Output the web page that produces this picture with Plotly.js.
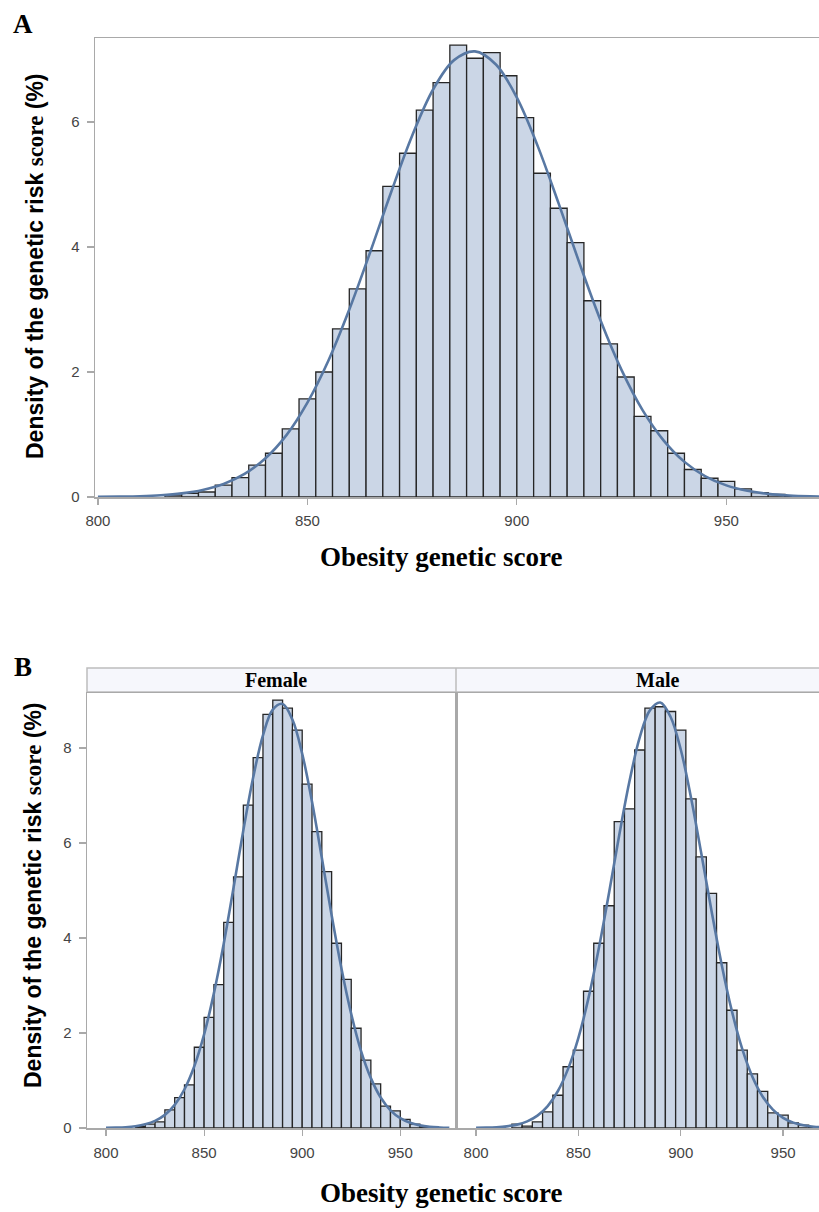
<!DOCTYPE html>
<html>
<head>
<meta charset="utf-8">
<script src="https://cdn.plot.ly/plotly-3.0.1.min.js"></script>
<style>
  html, body { margin: 0; padding: 0; overflow: hidden; background: #fff; }
  #chart { width: 880px; height: 1212px; }
</style>
</head>
<body>
<div id="chart"></div>
<script>
// ---------- Panel A: all subjects (bin width 4) ----------
const aBins = [818, 822, 826, 830, 834, 838, 842, 846, 850, 854, 858, 862, 866, 870, 874, 878, 882, 886, 890, 894, 898, 902, 906, 910, 914, 918, 922, 926, 930, 934, 938, 942, 946, 950, 954, 958, 962, 966];
const aDensity = [0.03, 0.06, 0.08, 0.19, 0.31, 0.51, 0.70, 1.09, 1.57, 2.00, 2.69, 3.33, 3.94, 4.97, 5.50, 6.19, 6.63, 7.23, 7.02, 7.11, 6.74, 6.07, 5.18, 4.62, 4.07, 3.14, 2.45, 1.92, 1.29, 1.06, 0.70, 0.44, 0.30, 0.25, 0.13, 0.07, 0.04, 0.02];
const aCurveX = [800, 805, 810, 815, 820, 825, 830, 835, 840, 845, 850, 855, 860, 865, 870, 875, 880, 885, 890, 895, 900, 905, 910, 915, 920, 925, 930, 935, 940, 945, 950, 955, 960, 965, 970, 975, 980];
const aCurve = [0.002, 0.006, 0.013, 0.028, 0.058, 0.113, 0.209, 0.369, 0.62, 0.99, 1.51, 2.18, 3.00, 3.92, 4.88, 5.78, 6.52, 6.99, 7.13, 6.92, 6.39, 5.61, 4.69, 3.73, 2.82, 2.03, 1.39, 0.907, 0.562, 0.331, 0.186, 0.099, 0.050, 0.024, 0.011, 0.005, 0.002];

// ---------- Panel B: Female (bin width 5) ----------
const femaleBins = [817.5, 822.5, 827.5, 832.5, 837.5, 842.5, 847.5, 852.5, 857.5, 862.5, 867.5, 872.5, 877.5, 882.5, 887.5, 892.5, 897.5, 902.5, 907.5, 912.5, 917.5, 922.5, 927.5, 932.5, 937.5, 942.5, 947.5, 952.5, 957.5, 962.5];
const femaleDensity = [0.03, 0.08, 0.13, 0.38, 0.64, 0.91, 1.70, 2.33, 3.02, 4.33, 5.29, 6.80, 7.80, 8.71, 9.01, 8.84, 8.38, 7.24, 6.24, 5.40, 3.89, 3.13, 2.10, 1.43, 0.93, 0.46, 0.36, 0.18, 0.08, 0.03];
const femaleCurveX = [800, 805, 810, 815, 820, 825, 830, 835, 840, 845, 850, 855, 860, 865, 870, 875, 880, 885, 890, 895, 900, 905, 910, 915, 920, 925, 930, 935, 940, 945, 950, 955, 960, 965, 970, 975];
const femaleCurve = [0.003, 0.008, 0.017, 0.037, 0.077, 0.149, 0.276, 0.487, 0.816, 1.30, 1.97, 2.84, 3.88, 5.06, 6.27, 7.38, 8.27, 8.81, 8.93, 8.60, 7.88, 6.87, 5.69, 4.48, 3.36, 2.40, 1.62, 1.05, 0.641, 0.373, 0.207, 0.109, 0.055, 0.026, 0.012, 0.005];

// ---------- Panel B: Male (bin width 5) ----------
const maleBins = [820, 825, 830, 835, 840, 845, 850, 855, 860, 865, 870, 875, 880, 885, 890, 895, 900, 905, 910, 915, 920, 925, 930, 935, 940, 945, 950, 955, 960, 965];
const maleDensity = [0.08, 0.04, 0.13, 0.34, 0.69, 1.29, 1.64, 2.88, 3.89, 4.68, 6.45, 6.72, 7.96, 8.84, 8.87, 8.77, 8.38, 6.93, 5.71, 4.94, 3.48, 2.48, 1.64, 1.14, 0.77, 0.32, 0.27, 0.11, 0.06, 0.03];
const maleCurveX = [800, 805, 810, 815, 820, 825, 830, 835, 840, 845, 850, 855, 860, 865, 870, 875, 880, 885, 890, 895, 900, 905, 910, 915, 920, 925, 930, 935, 940, 945, 950, 955, 960, 965, 970, 975, 980];
const maleCurve = [0.003, 0.007, 0.016, 0.035, 0.071, 0.140, 0.261, 0.462, 0.779, 1.25, 1.90, 2.75, 3.79, 4.96, 6.18, 7.31, 8.23, 8.80, 8.96, 8.66, 7.97, 6.96, 5.79, 4.58, 3.44, 2.46, 1.67, 1.08, 0.663, 0.387, 0.215, 0.113, 0.057, 0.027, 0.012, 0.005, 0.002];

const xTicks = [800, 850, 900, 950];
const yTicksA = [0, 2, 4, 6];
const yTicksB = [0, 2, 4, 6, 8];
const panelLabels = ['A', 'B'];
const facetLabels = ['Female', 'Male'];
const xTitle = 'Obesity genetic score';
const yTitle = 'Density of the genetic risk <span style="font-family:\'Liberation Serif\', \'Times New Roman\', serif">score</span> (%)';

// ---------- geometry helpers (pixels -> paper) ----------
const W = 880, H = 1212;
const px = v => v / W;
const py = v => 1 - v / H;

const BAR_FILL = '#cbd6e6';
const BAR_LINE = '#262626';
const CURVE = '#5878a3';
const AXIS = '#a9a9a9';
const TICKFONT = {family: 'Liberation Sans, Arial, sans-serif', size: 15, color: '#444444'};
const SERIF = 'Liberation Serif, Times New Roman, serif';

function bars(x, y, w, xa, ya) {
  return {type: 'bar', x: x, y: y, width: w, xaxis: xa, yaxis: ya,
    marker: {color: BAR_FILL, line: {color: BAR_LINE, width: 1.3}},
    hoverinfo: 'x+y', showlegend: false};
}
function curve(x, y, xa, ya) {
  return {type: 'scatter', mode: 'lines', x: x, y: y, xaxis: xa, yaxis: ya,
    line: {color: CURVE, width: 2.6, shape: 'spline', smoothing: 1},
    hoverinfo: 'skip', showlegend: false, cliponaxis: true};
}

const data = [
  bars(aBins, aDensity, 4, 'x', 'y'),
  curve(aCurveX, aCurve, 'x', 'y'),
  bars(femaleBins, femaleDensity, 5, 'x2', 'y2'),
  curve(femaleCurveX, femaleCurve, 'x2', 'y2'),
  bars(maleBins, maleDensity, 5, 'x3', 'y3'),
  curve(maleCurveX, maleCurve, 'x3', 'y3')
];

const axBase = {showgrid: false, zeroline: false, showline: true, linecolor: AXIS, linewidth: 1.5,
  mirror: true, ticks: 'outside', ticklen: 7, tickwidth: 1.2, tickcolor: AXIS, tickfont: TICKFONT,
  fixedrange: true};

const layout = {
  width: W, height: H,
  margin: {l: 0, r: 0, t: 0, b: 0},
  paper_bgcolor: '#ffffff', plot_bgcolor: '#ffffff',
  bargap: 0, barmode: 'overlay', showlegend: false,
  xaxis: Object.assign({}, axBase, {anchor: 'y', domain: [px(95), px(860)], range: [799.3, 981.9], tickvals: xTicks, ticklen: 6, ticklabelstandoff: 3}),
  yaxis: Object.assign({}, axBase, {anchor: 'x', domain: [py(497), py(38)], range: [0, 7.344], tickvals: yTicksA, ticklabelstandoff: 4}),
  xaxis2: Object.assign({}, axBase, {anchor: 'y2', domain: [px(87), px(456)], range: [790.3, 978.4], tickvals: xTicks, ticklen: 6, ticklabelstandoff: 4}),
  yaxis2: Object.assign({}, axBase, {anchor: 'x2', domain: [py(1128), py(693)], range: [0, 9.16], tickvals: yTicksB, ticklabelstandoff: 4}),
  xaxis3: Object.assign({}, axBase, {anchor: 'y3', domain: [px(456), px(858)], range: [790.2, 986.6], tickvals: xTicks, ticklen: 6, ticklabelstandoff: 4}),
  yaxis3: Object.assign({}, axBase, {anchor: 'x3', domain: [py(1128), py(693)], range: [0, 9.16], tickvals: yTicksB, showticklabels: false, ticks: ''}),
  shapes: [
    {type: 'rect', xref: 'paper', yref: 'paper', x0: px(87), x1: px(858), y0: py(692), y1: py(668),
      fillcolor: '#f6f7fc', line: {color: '#bdbdbd', width: 1.5}, layer: 'below'},
    {type: 'line', xref: 'paper', yref: 'paper', x0: px(456), x1: px(456), y0: py(692), y1: py(668),
      line: {color: '#bdbdbd', width: 1.5}}
  ],
  annotations: [
    {text: '<b>' + panelLabels[0] + '</b>', xref: 'paper', yref: 'paper', x: px(23), y: py(24), xanchor: 'center', yanchor: 'middle', showarrow: false,
      font: {family: SERIF, size: 27, color: '#000'}},
    {text: '<b>' + panelLabels[1] + '</b>', xref: 'paper', yref: 'paper', x: px(23), y: py(667), xanchor: 'center', yanchor: 'middle', showarrow: false,
      font: {family: SERIF, size: 27, color: '#000'}},
    {text: '<b>' + yTitle + '</b>', xref: 'paper', yref: 'paper', x: px(35), y: py(266), xanchor: 'center', yanchor: 'middle', textangle: -90, showarrow: false,
      font: {family: 'Liberation Sans, Arial, sans-serif', size: 23, color: '#000'}},
    {text: '<b>' + yTitle + '</b>', xref: 'paper', yref: 'paper', x: px(33), y: py(895), xanchor: 'center', yanchor: 'middle', textangle: -90, showarrow: false,
      font: {family: 'Liberation Sans, Arial, sans-serif', size: 23, color: '#000'}},
    {text: '<b>' + xTitle + '</b>', xref: 'paper', yref: 'paper', x: px(441), y: py(557), xanchor: 'center', yanchor: 'middle', showarrow: false,
      font: {family: SERIF, size: 27, color: '#000'}},
    {text: '<b>' + xTitle + '</b>', xref: 'paper', yref: 'paper', x: px(441), y: py(1193), xanchor: 'center', yanchor: 'middle', showarrow: false,
      font: {family: SERIF, size: 27, color: '#000'}},
    {text: '<b>' + facetLabels[0] + '</b>', xref: 'paper', yref: 'paper', x: px(276), y: py(680), xanchor: 'center', yanchor: 'middle', showarrow: false,
      font: {family: SERIF, size: 20, color: '#000'}},
    {text: '<b>' + facetLabels[1] + '</b>', xref: 'paper', yref: 'paper', x: px(657), y: py(680), xanchor: 'center', yanchor: 'middle', showarrow: false,
      font: {family: SERIF, size: 20, color: '#000'}}
  ]
};

Plotly.newPlot('chart', data, layout, {staticPlot: true, displayModeBar: false});
</script>
</body>
</html>
